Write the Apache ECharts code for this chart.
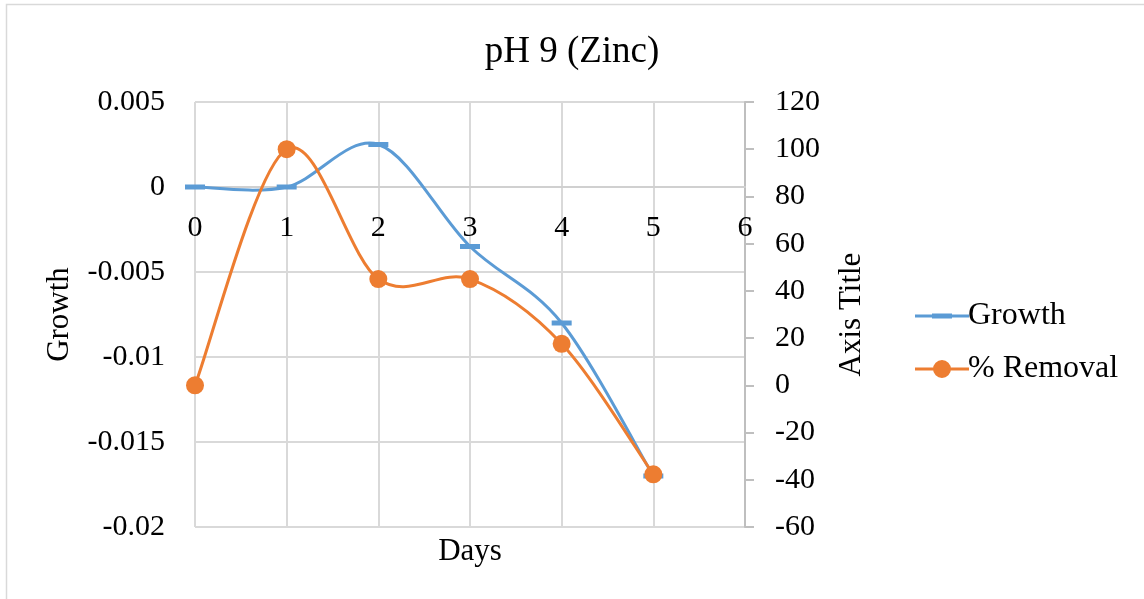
<!DOCTYPE html>
<html>
<head>
<meta charset="utf-8">
<title>pH 9 (Zinc)</title>
<script src="https://cdn.jsdelivr.net/npm/echarts@6/dist/echarts.min.js"></script>
<style>
  html, body { margin: 0; padding: 0; background: #ffffff; }
  #chart { width: 1144px; height: 599px; }
</style>
</head>
<body>
<div id="chart"></div>
<script>
// Sampling days
const days = [0, 1, 2, 3, 4, 5];
// Growth (left axis)
const growth = [0, 0, 0.0025, -0.0035, -0.008, -0.017];
// % Removal (right axis)
const removal = [0, 100, 45, 45, 17.6, -37.7];
// Axis ranges
const growthRange = { min: -0.02, max: 0.005, step: 0.005 };
const removalRange = { min: -60, max: 120, step: 20 };
const dayRange = { min: 0, max: 6, step: 1 };

const FONT = '"Liberation Serif", "Times New Roman", serif';
const GRID_COLOR = '#d9d9d9';
const AXIS_COLOR = '#bfbfbf';
const BLUE = '#5B9BD5';
const ORANGE = '#ED7D31';

const GRID = { left: 195, right: 399, top: 102, bottom: 72 };
const CHART_H = 599;
const plotHeight = CHART_H - GRID.top - GRID.bottom;
// The day axis crosses the Growth axis at zero
const dayAxisOffset = -plotHeight * (0 - growthRange.min) / (growthRange.max - growthRange.min);

const chart = echarts.init(document.getElementById('chart'), null, { renderer: 'canvas' });

const pair = (xs, ys) => xs.map((x, i) => [x, ys[i]]);

// Smooth cubic spline through the points (Catmull-Rom style, 1/6 tangents)
function splinePath(pts) {
  let d = 'M' + pts[0][0] + ',' + pts[0][1];
  const n = pts.length;
  for (let i = 0; i < n - 1; i++) {
    const p0 = pts[Math.max(i - 1, 0)];
    const p1 = pts[i];
    const p2 = pts[i + 1];
    const p3 = pts[Math.min(i + 2, n - 1)];
    const c1 = [p1[0] + (p2[0] - p0[0]) / 6, p1[1] + (p2[1] - p0[1]) / 6];
    const c2 = [p2[0] - (p3[0] - p1[0]) / 6, p2[1] - (p3[1] - p1[1]) / 6];
    d += ' C' + c1[0] + ',' + c1[1] + ' ' + c2[0] + ',' + c2[1] + ' ' + p2[0] + ',' + p2[1];
  }
  return d;
}

function curveSeries(name, xs, ys, axisIndex, color, z) {
  return {
    name: name,
    type: 'custom',
    yAxisIndex: axisIndex,
    silent: true,
    z: z,
    data: pair(xs, ys),
    renderItem: function (params, api) {
      if (params.dataIndex !== 0) return null;
      const pts = xs.map((x, i) => api.coord([x, ys[i]]));
      return {
        type: 'path',
        shape: { pathData: splinePath(pts) },
        style: { fill: 'none', stroke: color, lineWidth: 3, lineJoin: 'round', lineCap: 'round' }
      };
    }
  };
}

// Legend icons: line with a dash marker, line with a round marker
const ICON_DASH = 'path://M0,7.5L54,7.5L54,10.5L0,10.5Z M17,6.5L37,6.5L37,11.5L17,11.5Z';
const ICON_DOT = 'path://M0,7.5L54,7.5L54,10.5L0,10.5Z M18,9A9,9 0 1 1 36,9A9,9 0 1 1 18,9Z';

chart.setOption({
  backgroundColor: '#ffffff',
  animation: false,
  textStyle: { fontFamily: FONT, color: '#000' },
  title: {
    text: 'pH 9 (Zinc)',
    left: 'center',
    top: 29,
    padding: [5, 0, 5, 10],
    textStyle: { fontFamily: FONT, fontSize: 37, fontWeight: 'normal', color: '#000' }
  },
  legend: {
    orient: 'vertical',
    left: 910,
    top: 295,
    itemWidth: 54,
    itemHeight: 18,
    itemGap: 21,
    textStyle: { fontFamily: FONT, fontSize: 32, color: '#000', padding: [0, 0, 0, -6] },
    data: [
      { name: 'Growth', icon: ICON_DASH },
      { name: '% Removal', icon: ICON_DOT }
    ]
  },
  grid: { left: GRID.left, right: GRID.right, top: GRID.top, bottom: GRID.bottom, containLabel: false },
  xAxis: {
    type: 'value',
    min: dayRange.min,
    max: dayRange.max,
    interval: dayRange.step,
    position: 'bottom',
    offset: dayAxisOffset,
    axisLine: { show: true, onZero: false, lineStyle: { color: '#d0d0d0', width: 2 } },
    axisTick: { show: false },
    axisLabel: { margin: 26, fontFamily: FONT, fontSize: 30, color: '#000' },
    splitLine: { show: true, lineStyle: { color: GRID_COLOR, width: 2 } }
  },
  yAxis: [
    {
      type: 'value',
      position: 'left',
      min: growthRange.min,
      max: growthRange.max,
      interval: growthRange.step,
      name: 'Growth',
      nameLocation: 'middle',
      nameGap: 120,
      nameRotate: 90,
      nameTextStyle: { fontFamily: FONT, fontSize: 31, color: '#000' },
      axisLine: { show: false, onZero: false },
      axisTick: { show: false },
      axisLabel: {
        margin: 30,
        fontFamily: FONT,
        fontSize: 30,
        color: '#000',
        formatter: v => String(parseFloat(v.toFixed(4)))
      },
      splitLine: { show: true, lineStyle: { color: GRID_COLOR, width: 2 } }
    },
    {
      type: 'value',
      position: 'right',
      min: removalRange.min,
      max: removalRange.max,
      interval: removalRange.step,
      name: 'Axis Title',
      nameLocation: 'middle',
      nameGap: 91,
      nameRotate: 90,
      nameTextStyle: { fontFamily: FONT, fontSize: 31, color: '#000' },
      axisLine: { show: true, onZero: false, lineStyle: { color: AXIS_COLOR, width: 2 } },
      axisTick: { show: true, inside: false, length: 9, lineStyle: { color: AXIS_COLOR, width: 2 } },
      axisLabel: { margin: 30, fontFamily: FONT, fontSize: 30, color: '#000' },
      splitLine: { show: false }
    }
  ],
  graphic: [
    {
      type: 'rect',
      silent: true,
      z: -1,
      shape: { x: 6.5, y: 4.5, width: 1200, height: 700 },
      style: { fill: 'none', stroke: GRID_COLOR, lineWidth: 1.5 }
    },
    {
      type: 'text',
      silent: true,
      x: 470,
      y: 552,
      style: {
        text: 'Days',
        fontFamily: FONT,
        fontSize: 31,
        fill: '#000',
        textAlign: 'center',
        textVerticalAlign: 'middle'
      }
    }
  ],
  series: [
    {
      name: 'Growth',
      type: 'line',
      yAxisIndex: 0,
      data: pair(days, growth),
      symbol: 'rect',
      symbolSize: [20, 5],
      lineStyle: { color: BLUE, width: 3, opacity: 0 },
      itemStyle: { color: BLUE },
      z: 5
    },
    {
      name: '% Removal',
      type: 'line',
      yAxisIndex: 1,
      data: pair(days, removal),
      symbol: 'circle',
      symbolSize: 18,
      lineStyle: { color: ORANGE, width: 3, opacity: 0 },
      itemStyle: { color: ORANGE },
      z: 6
    },
    curveSeries('Growth', days, growth, 0, BLUE, 3),
    curveSeries('% Removal', days, removal, 1, ORANGE, 4)
  ]
});
</script>
</body>
</html>
